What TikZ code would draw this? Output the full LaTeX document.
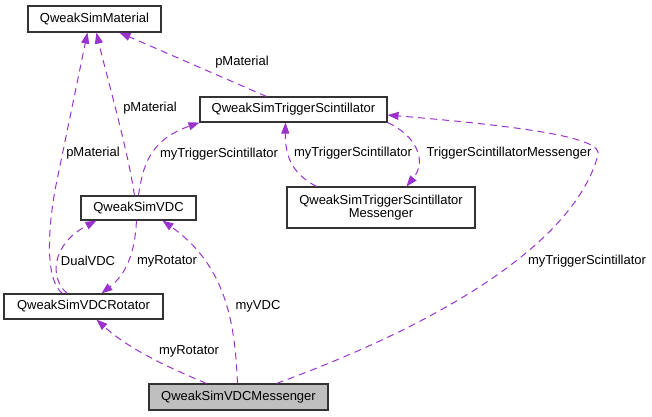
\documentclass[tikz,border=0pt]{standalone}
\usepackage{fontspec}
\setmainfont{Liberation Sans}
\usetikzlibrary{arrows.meta,calc}
\definecolor{edgepurple}{RGB}{154,50,205}
\definecolor{boxgray}{RGB}{191,191,191}
\tikzset{>={Triangle[length=11pt,width=8pt]},font=\fontsize{13}{13.6}\selectfont,
  cls/.style={draw=black!80,line width=1.1pt,inner sep=0pt,align=center},
  dep/.style={->,draw=edgepurple,line width=1pt,dash pattern=on 7pt off 5pt},
  lbl/.style={inner sep=1pt}}

\begin{document}
\begin{tikzpicture}[x=1pt,y=-1pt]
\useasboundingbox (0,0) rectangle (652,416);
\node[cls,minimum width=133pt,minimum height=26pt] (mat) at (94.5,19) {QweakSimMaterial};
\node[cls,minimum width=187pt,minimum height=25pt] (ts) at (293.5,109.5) {QweakSimTriggerScintillator};
\node[cls,minimum width=188pt,minimum height=41pt] (tsm) at (381,207.5) {QweakSimTriggerScintillator\\Messenger};
\node[cls,minimum width=115pt,minimum height=24pt] (vdc) at (138.5,208) {QweakSimVDC};
\node[cls,minimum width=159pt,minimum height=25pt] (rot) at (83.5,306.5) {QweakSimVDCRotator};
\node[cls,fill=boxgray,minimum width=179pt,minimum height=26pt] (vmsg) at (238.5,397) {QweakSimVDCMessenger};
% pMaterial
\draw[dep] ($(rot.north west)+(59,0)$) .. controls (45,280) and (48,230) .. (55,190) -- ($(mat.south west)+(60,0)$);
\draw[dep] ($(vdc.north west)+(54,0)$) .. controls (128,150) and (105,70) .. ($(mat.south west)+(69,0)$);
\draw[dep] ($(ts.north west)+(67,0)$) -- ($(mat.south west)+(92,0)$);
% myTriggerScintillator
\draw[dep] ($(vdc.north west)+(58,0)$) .. controls (143,165) and (150,140) .. (ts.south west);
\draw[dep] ($(tsm.north west)+(30,0)$) .. controls (295,175) and (285,160) .. ($(ts.south west)+(86,0)$);
\draw[dep] ($(vmsg.north west)+(128,0)$) .. controls (450,320) and (575,240) .. (598,155)
  .. controls (603,138) and (530,127) .. ($(ts.east)+(0,5.5)$);
% TriggerScintillatorMessenger
\draw[dep] (ts.south east) .. controls (415,135) and (428,160) .. ($(tsm.north west)+(120,0)$);
% myVDC, myRotator, DualVDC
\draw[dep] ($(vmsg.north west)+(89,0)$) .. controls (235,320) and (225,265) .. ($(vdc.south west)+(82,0)$);
\draw[dep] ($(vmsg.north west)+(58,0)$) .. controls (170,368) and (130,350) .. ($(rot.south west)+(93,0)$);
\draw[dep] ($(vdc.south west)+(56,0)$) .. controls (135,255) and (125,275) .. ($(rot.north west)+(98,0)$);
\draw[dep] ($(rot.north west)+(64,0)$) .. controls (50,280) and (50,245) .. ($(vdc.south west)+(16,0)$);
% labels
\node[lbl] (lmat1) at (242,62) {pMaterial};
\node[lbl] (lmat2) at (150,108) {pMaterial};
\node[lbl] (lmat3) at (93,153) {pMaterial};
\node[lbl] (lts1) at (219,154) {myTriggerScintillator};
\node[lbl] (lts2) at (353,153) {myTriggerScintillator};
\node[lbl] (ltsm) at (509,153) {TriggerScintillatorMessenger};
\node[lbl] (lts3) at (587,261) {myTriggerScintillator};
\node[lbl] (ldual) at (88,261) {DualVDC};
\node[lbl] (lrot1) at (167,261) {myRotator};
\node[lbl] (lvdc) at (258,306) {myVDC};
\node[lbl] (lrot2) at (189,351) {myRotator};
\end{tikzpicture}
\end{document}
